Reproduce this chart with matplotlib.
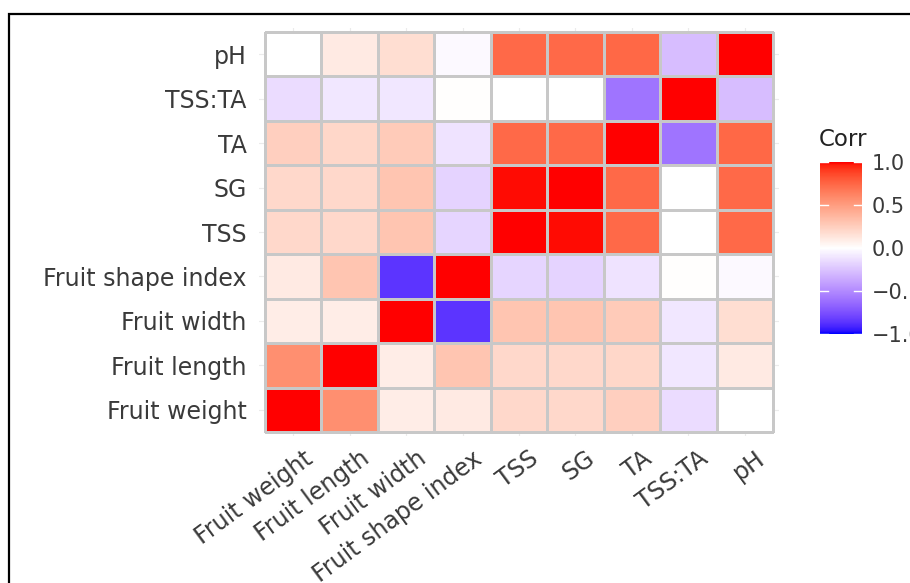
import numpy as np
import matplotlib
matplotlib.use("Agg")
import matplotlib.pyplot as plt
from matplotlib.colors import ListedColormap, Normalize
from matplotlib.patches import Rectangle
import matplotlib.transforms as mtransforms

plt.rcParams['font.family'] = ['DejaVu Sans']

variables = ["Fruit weight", "Fruit length", "Fruit width", "Fruit shape index",
             "TSS", "SG", "TA", "TSS:TA", "pH"]

# correlation matrix (row i, col j)
corr = np.array([
    [1.00, 0.57, 0.09, 0.11, 0.20, 0.20, 0.25, -0.15, 0.00],
    [0.57, 1.00, 0.09, 0.30, 0.20, 0.20, 0.21, -0.10, 0.11],
    [0.09, 0.09, 1.00, -0.86, 0.30, 0.30, 0.27, -0.10, 0.17],
    [0.11, 0.30, -0.86, 1.00, -0.18, -0.19, -0.12, 0.01, -0.02],
    [0.20, 0.20, 0.30, -0.18, 1.00, 0.99, 0.74, 0.00, 0.74],
    [0.20, 0.20, 0.30, -0.19, 0.99, 1.00, 0.74, 0.00, 0.74],
    [0.25, 0.21, 0.27, -0.12, 0.74, 0.74, 1.00, -0.60, 0.75],
    [-0.15, -0.10, -0.10, 0.01, 0.00, 0.00, -0.60, 1.00, -0.28],
    [0.00, 0.11, 0.17, -0.02, 0.74, 0.74, 0.75, -0.28, 1.00],
])

legend_breaks = [-1.0, -0.5, 0.0, 0.5, 1.0]


# blue - white - red, interpolated in Lab like ggplot's gradient2
def srgb_to_lab(rgb):
    rgb = np.asarray(rgb, float)
    lin = np.where(rgb <= 0.04045, rgb / 12.92, ((rgb + 0.055) / 1.055) ** 2.4)
    m = np.array([[0.4124, 0.3576, 0.1805],
                  [0.2126, 0.7152, 0.0722],
                  [0.0193, 0.1192, 0.9505]])
    xyz = m @ lin / np.array([0.95047, 1.0, 1.08883])
    f = np.where(xyz > 0.008856, np.cbrt(xyz), 7.787 * xyz + 16 / 116)
    return np.array([116 * f[1] - 16, 500 * (f[0] - f[1]), 200 * (f[1] - f[2])])


def lab_to_srgb(lab):
    L, a, b = lab
    fy = (L + 16) / 116
    fx = fy + a / 500
    fz = fy - b / 200
    f = np.array([fx, fy, fz])
    xyz = np.where(f ** 3 > 0.008856, f ** 3, (f - 16 / 116) / 7.787)
    xyz = xyz * np.array([0.95047, 1.0, 1.08883])
    m = np.array([[3.2406, -1.5372, -0.4986],
                  [-0.9689, 1.8758, 0.0415],
                  [0.0557, -0.2040, 1.0570]])
    lin = m @ xyz
    rgb = np.where(lin <= 0.0031308, 12.92 * lin, 1.055 * np.clip(lin, 0, None) ** (1 / 2.4) - 0.055)
    return np.clip(rgb, 0, 1)


blue = srgb_to_lab([0, 0, 1])
white = srgb_to_lab([1, 1, 1])
red = srgb_to_lab([1, 0, 0])
cols = []
for t in np.linspace(-1, 1, 257):
    if t < 0:
        lab = white + (blue - white) * (-t)
    else:
        lab = white + (red - white) * t
    cols.append(lab_to_srgb(lab))
cmap = ListedColormap(cols)
norm = Normalize(-1, 1)

fig = plt.figure(figsize=(9.1, 5.83), dpi=100)
W, H = 910, 583

# heatmap tiles span x 265..773, y 32..432 px; panel extends 0.1 unit beyond
n = len(variables)
ux = (773 - 265) / n
uy = (432 - 32) / n
left = 265 - 0.1 * ux
right = 773 + 0.1 * ux
top = 32 - 0.1 * uy
bottom = 432 + 0.1 * uy
ax = fig.add_axes([left / W, 1 - bottom / H, (right - left) / W, (bottom - top) / H])

ax.set_xlim(-0.6, n - 0.4)
ax.set_ylim(-0.6, n - 0.4)
for i in range(n):
    ax.axvline(i, color='#EBEBEB', lw=0.8, zorder=0)
    ax.axhline(i, color='#EBEBEB', lw=0.8, zorder=0)

xe = np.arange(n + 1) - 0.5
ax.pcolormesh(xe, xe, corr, cmap=cmap, norm=norm, edgecolors='#C8C8C8',
              linewidth=0.9, zorder=2)

for s in ax.spines.values():
    s.set_visible(False)
ax.set_xticks(range(n))
ax.set_yticks(range(n))
ax.tick_params(length=0, labelsize=17, labelcolor='#3A3A3A')
ax.set_yticklabels(variables)
ax.tick_params(axis='y', pad=9)
ax.set_xticklabels(variables, rotation=36.5, ha='right', va='top',
                   rotation_mode='anchor')
offset = mtransforms.ScaledTranslation(10 / 100, -5 / 100, fig.dpi_scale_trans)
for lab in ax.get_xticklabels():
    lab.set_transform(lab.get_transform() + offset)

# colourbar
cax = fig.add_axes([820 / W, 1 - 334 / H, (862 - 820) / W, (334 - 162) / H])
grad = np.linspace(-1, 1, 300).reshape(-1, 1)
cax.imshow(grad, aspect='auto', cmap=cmap, norm=norm, origin='lower',
           extent=[0, 1, -1, 1])
cax.set_xlim(0, 1)
cax.set_ylim(-1, 1)
for s in cax.spines.values():
    s.set_visible(False)
cax.set_xticks([])
cax.yaxis.tick_right()
cax.set_yticks(legend_breaks)
cax.set_yticklabels(['\u22121.0', '\u22120.5', '0.0', '0.5', '1.0'])
cax.tick_params(axis='y', length=0, pad=7, labelsize=15, labelcolor='#3A3A3A')
for b in legend_breaks:
    cax.plot([0, 0.2], [b, b], color='white', lw=1, clip_on=False)
    cax.plot([0.8, 1], [b, b], color='white', lw=1, clip_on=False)
fig.text(819 / W, 1 - 140 / H, 'Corr', fontsize=16.5, color='#222222',
         ha='left', va='center')

# black frame around the panel (cropped at right and bottom)
fig.patches.append(Rectangle((9 / W, -0.1), 1.2, 1.1 - 14 / H,
                             transform=fig.transFigure, fill=False,
                             edgecolor='black', lw=1.6))

fig.savefig('out.png', dpi=100)
